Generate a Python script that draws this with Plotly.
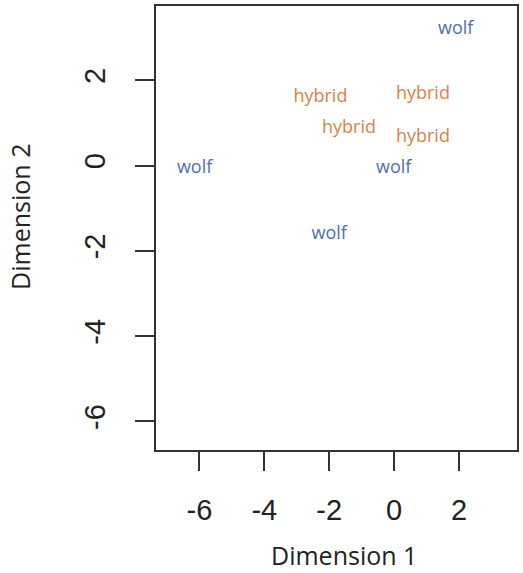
import plotly.graph_objects as go

labels = ["wolf", "hybrid", "hybrid", "hybrid", "hybrid", "wolf", "wolf", "wolf"]
dim1 = [1.9, -2.27, 0.89, -1.39, 0.89, -6.15, -0.01, -2.0]
dim2 = [3.18, 1.6, 1.66, 0.86, 0.66, -0.06, -0.06, -1.61]
colors_map = {"wolf": "#4f6fb0", "hybrid": "#dc7f45"}
xticks = [-6, -4, -2, 0, 2]
yticks = [-6, -4, -2, 0, 2]

fig = go.Figure()
for grp in ["wolf", "hybrid"]:
    xs = [x for x, l in zip(dim1, labels) if l == grp]
    ys = [y for y, l in zip(dim2, labels) if l == grp]
    fig.add_trace(go.Scatter(
        x=xs, y=ys, mode="text", text=[grp] * len(xs),
        textposition="middle center",
        textfont=dict(family="Open Sans", size=18, color=colors_map[grp]),
        showlegend=False, hoverinfo="skip"))

axis_common = dict(
    showgrid=False, zeroline=False, showline=True, mirror=True,
    linecolor="#333333", linewidth=2, ticks="outside", ticklen=19,
    tickwidth=2, tickcolor="#333333",
    tickfont=dict(family="Liberation Sans", size=29, color="#222222"),
)
fig.update_xaxes(range=[-7.34, 3.79], tickvals=xticks, ticktext=[str(v) for v in xticks],
                 ticklabelstandoff=14, **axis_common)
fig.update_yaxes(range=[-6.67, 3.74], tickvals=yticks, ticktext=[str(v) for v in yticks],
                 tickangle=-90, ticklabelstandoff=18, **axis_common)

fig.add_annotation(text="Dimension 1", xref="paper", yref="paper", x=0.52, y=0,
                   yshift=-105, showarrow=False, xanchor="center", yanchor="middle",
                   font=dict(family="Open Sans", size=25, color="#222222"))
fig.add_annotation(text="Dimension 2", xref="paper", yref="paper", x=0, y=0.525,
                   xshift=-136, showarrow=False, textangle=-90, xanchor="center",
                   yanchor="middle", font=dict(family="Open Sans", size=25, color="#222222"))

fig.update_layout(
    width=523, height=573,
    margin=dict(l=156, r=4, t=4, b=123),
    plot_bgcolor="white", paper_bgcolor="white",
)
fig.write_html("out.html")
